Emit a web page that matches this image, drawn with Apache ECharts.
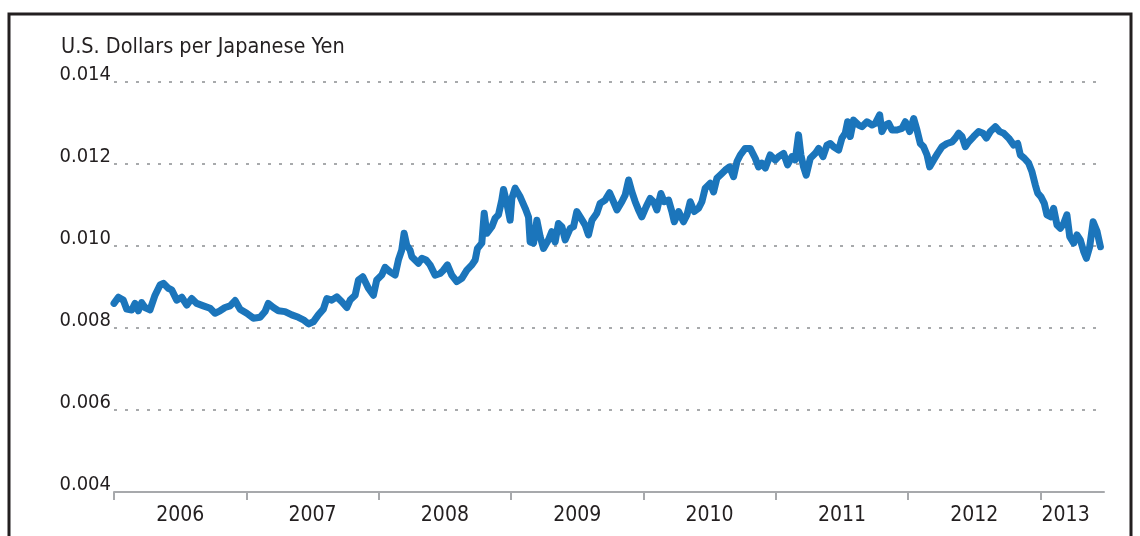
<!DOCTYPE html>
<html>
<head>
<meta charset="utf-8">
<title>U.S. Dollars per Japanese Yen</title>
<script src="https://cdn.jsdelivr.net/npm/echarts@6.0.0/dist/echarts.min.js"></script>
<style>
  html, body { margin: 0; padding: 0; background: #fff; }
  #chart { width: 1140px; height: 536px; }
</style>
</head>
<body>
<div id="chart"></div>
<script>
// dates as decimal years
const years = [
  2006.000, 2006.033, 2006.070, 2006.096, 2006.134, 2006.159, 2006.184, 2006.209, 2006.234, 2006.272,
  2006.310, 2006.348, 2006.373, 2006.410, 2006.436, 2006.474, 2006.512, 2006.550, 2006.587, 2006.625,
  2006.675, 2006.726, 2006.763, 2006.801, 2006.839, 2006.877, 2006.915, 2006.952, 2007.003, 2007.053,
  2007.104, 2007.141, 2007.166, 2007.204, 2007.242, 2007.292, 2007.343, 2007.393, 2007.431, 2007.469,
  2007.506, 2007.544, 2007.582, 2007.608, 2007.645, 2007.683, 2007.721, 2007.759, 2007.784, 2007.822,
  2007.847, 2007.859, 2007.880, 2007.922, 2007.960, 2007.985, 2008.023, 2008.048, 2008.086, 2008.124,
  2008.149, 2008.174, 2008.192, 2008.212, 2008.237, 2008.250, 2008.275, 2008.300, 2008.326, 2008.358,
  2008.388, 2008.426, 2008.464, 2008.489, 2008.519, 2008.552, 2008.590, 2008.628, 2008.666, 2008.704,
  2008.729, 2008.746, 2008.779, 2008.797, 2008.817, 2008.855, 2008.880, 2008.905, 2008.930, 2008.943,
  2008.968, 2008.993, 2009.006, 2009.031, 2009.069, 2009.107, 2009.132, 2009.144, 2009.170, 2009.195,
  2009.220, 2009.245, 2009.283, 2009.308, 2009.333, 2009.358, 2009.384, 2009.409, 2009.447, 2009.472,
  2009.497, 2009.522, 2009.560, 2009.585, 2009.611, 2009.648, 2009.673, 2009.711, 2009.744, 2009.774,
  2009.800, 2009.837, 2009.862, 2009.888, 2009.913, 2009.938, 2009.963, 2009.988, 2010.021, 2010.051,
  2010.077, 2010.102, 2010.132, 2010.157, 2010.190, 2010.215, 2010.233, 2010.266, 2010.303, 2010.329,
  2010.354, 2010.384, 2010.417, 2010.442, 2010.467, 2010.505, 2010.530, 2010.555, 2010.593, 2010.618,
  2010.651, 2010.681, 2010.707, 2010.732, 2010.769, 2010.807, 2010.845, 2010.870, 2010.895, 2010.921,
  2010.958, 2010.996, 2011.021, 2011.059, 2011.089, 2011.122, 2011.147, 2011.172, 2011.190, 2011.210,
  2011.230, 2011.261, 2011.299, 2011.324, 2011.357, 2011.387, 2011.412, 2011.437, 2011.475, 2011.500,
  2011.525, 2011.543, 2011.563, 2011.588, 2011.626, 2011.651, 2011.689, 2011.727, 2011.752, 2011.785,
  2011.802, 2011.828, 2011.853, 2011.878, 2011.916, 2011.954, 2011.979, 2012.012, 2012.042, 2012.067,
  2012.092, 2012.117, 2012.143, 2012.163, 2012.193, 2012.223, 2012.256, 2012.294, 2012.332, 2012.357,
  2012.382, 2012.407, 2012.432, 2012.458, 2012.495, 2012.533, 2012.566, 2012.591, 2012.621, 2012.659,
  2012.692, 2012.722, 2012.760, 2012.798, 2012.828, 2012.848, 2012.878, 2012.911, 2012.936, 2012.961,
  2012.979, 2013.004, 2013.029, 2013.049, 2013.079, 2013.099, 2013.125, 2013.150, 2013.175, 2013.200,
  2013.221, 2013.251, 2013.276, 2013.301, 2013.327, 2013.347, 2013.372, 2013.398, 2013.428, 2013.453
]

const rates = [
  0.00860, 0.00875, 0.00868, 0.00846, 0.00844, 0.00860, 0.00842, 0.00862, 0.00850, 0.00844,
  0.00880, 0.00905, 0.00909, 0.00897, 0.00893, 0.00868, 0.00875, 0.00856, 0.00872, 0.00860,
  0.00854, 0.00848, 0.00836, 0.00842, 0.00850, 0.00854, 0.00867, 0.00846, 0.00836, 0.00824,
  0.00826, 0.00840, 0.00860, 0.00850, 0.00842, 0.00840, 0.00832, 0.00826, 0.00820, 0.00810,
  0.00815, 0.00832, 0.00846, 0.00872, 0.00868, 0.00876, 0.00864, 0.00850, 0.00868, 0.00880,
  0.00917, 0.00921, 0.00925, 0.00897, 0.00880, 0.00917, 0.00929, 0.00948, 0.00937, 0.00929,
  0.00966, 0.00990, 0.01031, 0.01002, 0.00990, 0.00974, 0.00966, 0.00958, 0.00970, 0.00966,
  0.00954, 0.00929, 0.00933, 0.00941, 0.00954, 0.00929, 0.00913, 0.00921, 0.00941, 0.00954,
  0.00966, 0.00994, 0.01007, 0.01080, 0.01031, 0.01047, 0.01068, 0.01076, 0.01112, 0.01138,
  0.01104, 0.01063, 0.01116, 0.01141, 0.01120, 0.01092, 0.01071, 0.01010, 0.01007, 0.01063,
  0.01023, 0.00994, 0.01015, 0.01035, 0.01010, 0.01055, 0.01047, 0.01015, 0.01043, 0.01047,
  0.01084, 0.01071, 0.01051, 0.01027, 0.01063, 0.01080, 0.01104, 0.01112, 0.01130, 0.01108,
  0.01088, 0.01108, 0.01124, 0.01161, 0.01132, 0.01108, 0.01088, 0.01071, 0.01096, 0.01116,
  0.01108, 0.01088, 0.01128, 0.01108, 0.01112, 0.01084, 0.01059, 0.01084, 0.01059, 0.01076,
  0.01108, 0.01084, 0.01092, 0.01108, 0.01141, 0.01153, 0.01132, 0.01165, 0.01177, 0.01185,
  0.01193, 0.01169, 0.01206, 0.01222, 0.01238, 0.01238, 0.01214, 0.01193, 0.01202, 0.01190,
  0.01222, 0.01210, 0.01218, 0.01226, 0.01198, 0.01218, 0.01210, 0.01271, 0.01222, 0.01193,
  0.01173, 0.01214, 0.01226, 0.01238, 0.01218, 0.01246, 0.01250, 0.01242, 0.01234, 0.01263,
  0.01275, 0.01303, 0.01267, 0.01307, 0.01295, 0.01291, 0.01303, 0.01295, 0.01299, 0.01320,
  0.01279, 0.01295, 0.01299, 0.01283, 0.01283, 0.01287, 0.01303, 0.01279, 0.01311, 0.01283,
  0.01250, 0.01242, 0.01222, 0.01193, 0.01210, 0.01226, 0.01242, 0.01250, 0.01254, 0.01263,
  0.01275, 0.01267, 0.01242, 0.01254, 0.01267, 0.01279, 0.01275, 0.01263, 0.01279, 0.01291,
  0.01279, 0.01275, 0.01263, 0.01246, 0.01250, 0.01222, 0.01214, 0.01202, 0.01181, 0.01149,
  0.01129, 0.01120, 0.01104, 0.01076, 0.01071, 0.01092, 0.01051, 0.01043, 0.01055, 0.01076,
  0.01023, 0.01007, 0.01027, 0.01015, 0.00986, 0.00970, 0.00998, 0.01059, 0.01035, 0.00998
]

// year boundaries get ticks, labels sit in the middle of each year
const yearTicks = [2006, 2007, 2008, 2009, 2010, 2011, 2012, 2013]
const yearLabelPos = [2006.5, 2007.5, 2008.5, 2009.5, 2010.5, 2011.5, 2012.5, 2013.19]
const yTicks = [0.004, 0.006, 0.008, 0.010, 0.012, 0.014]

const labelFont = '"Liberation Sans Narrow", "DejaVu Sans Condensed", sans-serif'

const myChart = echarts.init(document.getElementById('chart'))
const option = {
  animation: false,
  backgroundColor: '#fff',
  title: {
    text: 'U.S. Dollars per Japanese Yen',
    left: 61,
    top: 36,
    padding: 0,
    textStyle: {
      fontFamily: labelFont,
      fontWeight: 'normal',
      fontSize: 21.5,
      color: '#231f20'
    }
  },
  grid: {
    left: 114,
    right: 36,
    top: 82,
    bottom: 44,
    containLabel: false
  },
  xAxis: {
    type: 'value',
    min: 2006,
    max: 2013.48,
    splitLine: { show: false },
    axisLine: {
      show: true,
      lineStyle: { color: '#a7a9ac', width: 2 }
    },
    axisTick: {
      show: true,
      length: 8,
      customValues: yearTicks,
      lineStyle: { color: '#a7a9ac', width: 2 }
    },
    axisLabel: {
      customValues: yearLabelPos,
      formatter: v => String(Math.floor(v)),
      margin: 13,
      fontFamily: labelFont,
      fontSize: 21,
      color: '#231f20'
    }
  },
  yAxis: {
    type: 'value',
    min: yTicks[0],
    max: yTicks[yTicks.length - 1],
    interval: 0.002,
    axisLine: { show: false },
    axisTick: { show: false },
    axisLabel: {
      formatter: v => v.toFixed(3),
      margin: 3,
      verticalAlign: 'bottom',
      lineHeight: 14,
      fontFamily: labelFont,
      fontSize: 20,
      color: '#231f20'
    },
    splitLine: {
      lineStyle: {
        color: '#8c8e91',
        width: 1.5,
        type: [3, 8] // dotted grid
      }
    }
  },
  graphic: [
    {
      // black frame around the panel
      type: 'polyline',
      silent: true,
      shape: { points: [[9, 540], [9, 14], [1131, 14], [1131, 540]] },
      style: { stroke: '#231f20', lineWidth: 3, fill: null }
    }
  ],
  series: [
    {
      type: 'line',
      data: years.map((y, i) => [y, rates[i]]),
      showSymbol: false,
      lineStyle: {
        color: '#1b75bb',
        width: 7,
        cap: 'round',
        join: 'round'
      }
    }
  ]
}

option && myChart.setOption(option)
</script>
</body>
</html>
